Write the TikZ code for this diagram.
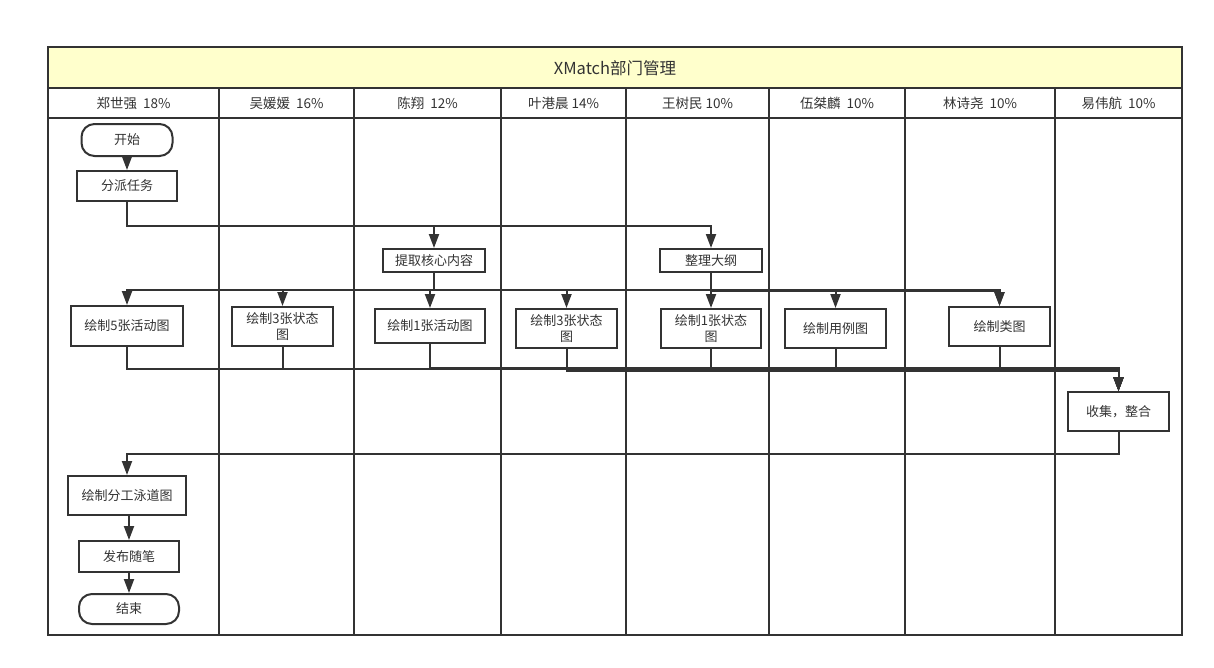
\documentclass[tikz,border=0pt]{standalone}
\usepackage{fontspec}
\newfontfamily\cjk{Noto Sans CJK SC}
\usetikzlibrary{arrows.meta}
\definecolor{lc}{HTML}{333333}
\definecolor{titlefill}{HTML}{FFFFCC}
\tikzset{
  lane/.style={draw=lc, line width=2},
  box/.style={draw=lc, line width=2, fill=white, text=lc, inner sep=0pt, align=center,
    font=\cjk\fontsize{13}{16.5}\selectfont},
  term/.style={box, rounded corners=13},
  hdr/.style={text=lc, font=\cjk\fontsize{13.5}{15}\selectfont},
  arr/.style={draw=lc, line width=2, -{Triangle[length=14pt,width=10pt]}}
}
\begin{document}
\begin{tikzpicture}[x=1pt,y=-1pt]
\useasboundingbox (0,0) rectangle (1214,667);
% pool
\fill[titlefill] (48,47) rectangle (1182,88);
\draw[lane] (48,47) rectangle (1182,635);
\draw[lane] (48,88) -- (1182,88);
\draw[lane] (48,118) -- (1182,118);
\foreach \x in {219,354,501,626,769,905,1055} \draw[lane] (\x,88) -- (\x,635);
\node[text=lc, font=\cjk\fontsize{16.5}{18}\selectfont] (title) at (615,68) {XMatch部门管理};
% headers
\node[hdr] (h1) at (133.5,103) {郑世强\ \ 18\%};
\node[hdr] (h2) at (286.5,103) {吴媛媛\ \ 16\%};
\node[hdr] (h3) at (427.5,103) {陈翔\ \ 12\%};
\node[hdr] (h4) at (563.5,103) {叶港晨\ 14\%};
\node[hdr] (h5) at (697.5,103) {王树民 10\%};
\node[hdr] (h6) at (837,103) {伍桀麟\ \ 10\%};
\node[hdr] (h7) at (980,103) {林诗尧\ \ 10\%};
\node[hdr] (h8) at (1118.5,103) {易伟航\ \ 10\%};
% nodes
\node[term, minimum width=91, minimum height=32] (start) at (127,140) {开始};
\node[box, minimum width=100, minimum height=30] (fp) at (127,186) {分派任务};
\node[box, minimum width=102, minimum height=23] (tq) at (434,260.5) {提取核心内容};
\node[box, minimum width=102, minimum height=23] (zl) at (711,260.5) {整理大纲};
\node[box, minimum width=112, minimum height=40] (a5) at (127,326) {绘制5张活动图};
\node[box, minimum width=101, minimum height=39] (s3a) at (282.5,326.5) {绘制3张状态\\图};
\node[box, minimum width=110, minimum height=34] (a1) at (430,326) {绘制1张活动图};
\node[box, minimum width=101, minimum height=39] (s3b) at (566.5,328.5) {绘制3张状态\\图};
\node[box, minimum width=100, minimum height=39] (s1) at (711,328.5) {绘制1张状态\\图};
\node[box, minimum width=101, minimum height=39] (uc) at (835.5,328.5) {绘制用例图};
\node[box, minimum width=101, minimum height=39] (cl) at (999.5,326.5) {绘制类图};
\node[box, minimum width=101, minimum height=39] (col) at (1118.5,411.5) {收集，整合};
\node[box, minimum width=118, minimum height=39] (sw) at (127,495.5) {绘制分工泳道图};
\node[box, minimum width=100, minimum height=31] (fb) at (129,556.5) {发布随笔};
\node[term, minimum width=100, minimum height=30] (end) at (129,609) {结束};
% connectors
\draw[arr] (start) -- (fp);
\draw[arr] (fp.south) -- ++(0,24) -| (tq.north);
\draw[arr] (fp.south) -- ++(0,24) -| (zl.north);
\draw[arr] (tq.south) -- ++(0,17) -| (a5.north);
\draw[arr] (tq.south) -- ++(0,17) -| (s3a.north);
\draw[arr] (tq.south) -- ++(0,17) -| (a1.north);
\draw[arr] (tq.south) -- ++(0,17) -| (s3b.north);
\draw[arr] (tq.south) -- ++(0,17) -| (cl.north);
\draw[arr] (zl.south) -- ++(0,18.3) -| (s1.north);
\draw[arr] (zl.south) -- ++(0,18.3) -| (uc.north);
\draw[arr] (zl.south) -- ++(0,18.3) -| (cl.north);
\draw[arr] (a5.south) -- ++(0,22) -| (col.north);
\draw[arr] (s3a.south) -- ++(0,22) -| (col.north);
\draw[arr] (a1.south) -- ++(0,23.5) -| (col.north);
\draw[arr] (s3b.south) -- ++(0,21.5) -| (col.north);
\draw[arr] (s1.south) -- ++(0,21) -| (col.north);
\draw[arr] (uc.south) -- ++(0,20.5) -| (col.north);
\draw[arr] (cl.south) -- ++(0,22) -| (col.north);
\draw[arr] (col.south) -- ++(0,22) -| (sw.north);
\draw[arr] (sw.south -| fb.north) -- (fb.north);
\draw[arr] (fb.south) -- (end.north);
\end{tikzpicture}
\end{document}
